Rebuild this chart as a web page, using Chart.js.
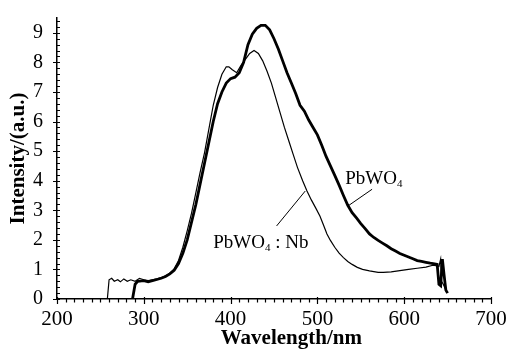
<!DOCTYPE html>
<html>
<head>
<meta charset="utf-8">
<script src="https://cdn.jsdelivr.net/npm/chart.js@4/dist/chart.umd.min.js"></script>
<style>
  html, body { margin: 0; padding: 0; background: #fff; }
  #wrap { width: 509px; height: 349px; }
</style>
</head>
<body>
<div id="wrap"><canvas id="chart" width="509" height="349"></canvas></div>
<script>
// ── data ─────────────────────────────────────────────────────────────────
// PbWO4 (thick curve)
const pbwoWavelength = [287, 290, 293, 300, 305, 310, 315, 320, 325, 330, 335, 340, 345, 350, 355, 360,
  365, 370, 375, 380, 385, 390, 395, 400, 405, 410, 415, 420, 425, 430, 435, 440, 445, 450, 455, 460,
  465, 470, 475, 480, 485, 490, 495, 500, 505, 510, 515, 520, 525, 530, 535, 540, 545, 550, 555, 560,
  565, 570, 575, 580, 585, 590, 595, 600, 605, 610, 615, 620, 625, 630, 635, 638, 640, 642, 644, 646, 648, 650];
const pbwoIntensity = [0, 0.5, 0.6, 0.62, 0.58, 0.62, 0.66, 0.7, 0.76, 0.85, 0.97, 1.2, 1.55, 2.0, 2.6, 3.2,
  3.9, 4.6, 5.3, 6.0, 6.6, 7.0, 7.3, 7.45, 7.5, 7.65, 8.0, 8.6, 8.95, 9.15, 9.25, 9.25, 9.1, 8.8, 8.45, 8.05,
  7.65, 7.3, 6.95, 6.55, 6.35, 6.05, 5.8, 5.55, 5.2, 4.82, 4.5, 4.18, 3.85, 3.5, 3.17, 2.92, 2.74, 2.55, 2.38, 2.2,
  2.08, 1.98, 1.89, 1.8, 1.7, 1.62, 1.54, 1.48, 1.42, 1.36, 1.3, 1.27, 1.24, 1.21, 1.19, 1.17, 0.5, 0.45, 1.35, 0.8, 0.3, 0.2];

// PbWO4:Nb (thin curve)
const nbWavelength = [258, 260, 263, 266, 270, 273, 277, 281, 285, 290, 295, 300, 305, 310, 315, 320, 325,
  330, 335, 340, 345, 350, 355, 360, 365, 370, 375, 380, 385, 390, 395, 398, 402, 407, 412, 417, 422, 427,
  432, 437, 442, 447, 452, 457, 462, 467, 472, 477, 483, 488, 493, 498, 503, 507, 511, 515, 520, 525, 530,
  535, 540, 546, 552, 560, 570, 576, 585, 595, 605, 615, 625, 633, 638, 640, 642, 643, 645, 648];
const nbIntensity = [0, 0.65, 0.7, 0.6, 0.65, 0.58, 0.68, 0.6, 0.65, 0.6, 0.7, 0.65, 0.62, 0.65, 0.68, 0.72, 0.78,
  0.87, 1.02, 1.3, 1.75, 2.3, 2.9, 3.6, 4.3, 4.95, 5.75, 6.55, 7.15, 7.6, 7.85, 7.85, 7.75, 7.65, 7.9, 8.1, 8.3, 8.4,
  8.3, 8.05, 7.7, 7.3, 6.8, 6.3, 5.8, 5.35, 4.9, 4.45, 4.0, 3.65, 3.35, 3.08, 2.8, 2.5, 2.2, 1.98, 1.75, 1.55, 1.4,
  1.27, 1.17, 1.07, 1.0, 0.95, 0.9, 0.9, 0.92, 0.96, 1.0, 1.04, 1.08, 1.14, 1.12, 1.1, 1.35, 0.6, 0.5, 0.3];

const xTicks = [200, 300, 400, 500, 600, 700];
const yTicks = [0, 1, 2, 3, 4, 5, 6, 7, 8, 9];

// ── helpers ─────────────────────────────────────────────────────────────
const SERIF = '"Liberation Serif", "Times New Roman", serif';

function toPoints(xs, ys) {
  return xs.map((x, i) => ({ x: x, y: ys[i] }));
}

// minor / major tick marks drawn on the axis lines
const tickMarks = {
  id: 'tickMarks',
  afterDraw(chart) {
    const { ctx, scales: { x, y } } = chart;
    const y0 = y.getPixelForValue(0);
    const x0 = x.getPixelForValue(200);
    ctx.save();
    ctx.strokeStyle = '#000';
    ctx.lineWidth = 1.2;
    ctx.beginPath();
    for (let v = 200; v <= 700; v += 10) {
      const px = Math.round(x.getPixelForValue(v)) + 0.5;
      const major = v % 100 === 0;
      ctx.moveTo(px, y0 - (major ? 2 : 0));
      ctx.lineTo(px, y0 + (major ? 5 : 3.5));
    }
    for (let k = 0; k <= 47; k++) {
      const v = k / 5;
      const py = Math.round(y.getPixelForValue(v)) + 0.5;
      const major = k % 5 === 0;
      ctx.moveTo(x0 - (major ? 4 : 0), py);
      ctx.lineTo(x0 + 3, py);
    }
    ctx.stroke();
    ctx.restore();
  }
};

// axis title under the x axis (sits right of the axis centre in the original)
const xTitle = {
  id: 'xTitle',
  afterDraw(chart) {
    const { ctx, scales: { x } } = chart;
    ctx.save();
    ctx.fillStyle = '#000';
    ctx.font = 'bold 21px ' + SERIF;
    ctx.textAlign = 'center';
    ctx.textBaseline = 'middle';
    ctx.fillText('Wavelength/nm', x.getPixelForValue(470), 339);
    ctx.restore();
  }
};

// curve labels with their leader lines, placed in data coordinates
const curveLabels = {
  id: 'curveLabels',
  afterDraw(chart) {
    const { ctx, scales: { x, y } } = chart;
    ctx.save();
    ctx.strokeStyle = '#000';
    ctx.fillStyle = '#000';
    ctx.lineWidth = 1;

    // leader lines
    ctx.beginPath();
    ctx.moveTo(x.getPixelForValue(535), y.getPixelForValue(3.14));
    ctx.lineTo(x.getPixelForValue(563), y.getPixelForValue(3.71));
    ctx.moveTo(x.getPixelForValue(453), y.getPixelForValue(2.47));
    ctx.lineTo(x.getPixelForValue(486), y.getPixelForValue(3.65));
    ctx.stroke();

    ctx.textBaseline = 'middle';
    ctx.textAlign = 'left';

    function label(px, py, parts) {
      let cx = px;
      parts.forEach(p => {
        ctx.font = p.sub ? '11px ' + SERIF : '19px ' + SERIF;
        ctx.fillText(p.t, cx, py + (p.sub ? 5 : 0));
        cx += ctx.measureText(p.t).width;
      });
    }

    label(x.getPixelForValue(532), y.getPixelForValue(4.05),
      [{ t: 'PbWO' }, { t: '4', sub: true }]);
    label(x.getPixelForValue(380), y.getPixelForValue(1.9),
      [{ t: 'PbWO' }, { t: '4', sub: true }, { t: ' : Nb' }]);

    ctx.restore();
  }
};

// ── chart ───────────────────────────────────────────────────────────────
new Chart(document.getElementById('chart'), {
  type: 'scatter',
  data: {
    datasets: [
      {
        label: 'PbWO4',
        data: toPoints(pbwoWavelength, pbwoIntensity),
        showLine: true,
        borderColor: '#000',
        borderWidth: 2.8,
        pointRadius: 0,
        tension: 0
      },
      {
        label: 'PbWO4:Nb',
        data: toPoints(nbWavelength, nbIntensity),
        showLine: true,
        borderColor: '#000',
        borderWidth: 1.2,
        pointRadius: 0,
        tension: 0
      }
    ]
  },
  options: {
    responsive: false,
    animation: false,
    layout: { padding: { top: 15, right: 18, bottom: 0, left: 0 } },
    plugins: {
      legend: { display: false },
      tooltip: { enabled: false }
    },
    scales: {
      x: {
        type: 'linear',
        min: 200,
        max: 700,
        afterFit(scale) { scale.height = 50; },
        afterBuildTicks(scale) { scale.ticks = xTicks.map(v => ({ value: v })); },
        grid: { display: false },
        border: { display: true, color: '#000', width: 1.5 },
        ticks: { color: '#000', padding: 0, font: { family: SERIF, size: 21 }, maxRotation: 0 },
        title: { display: false }
      },
      y: {
        min: 0,
        max: 9.5,
        afterFit(scale) { scale.width = 57; },
        afterBuildTicks(scale) { scale.ticks = yTicks.map(v => ({ value: v })); },
        grid: { display: false },
        border: { display: true, color: '#000', width: 1.5 },
        ticks: { color: '#000', padding: 6, font: { family: SERIF, size: 20 } },
        title: {
          display: true,
          text: 'Intensity/(a.u.)',
          color: '#000',
          font: { family: SERIF, size: 21, weight: 'bold', lineHeight: 1 },
          padding: { top: 8, bottom: 0 }
        }
      }
    }
  },
  plugins: [tickMarks, xTitle, curveLabels]
});
</script>
</body>
</html>
